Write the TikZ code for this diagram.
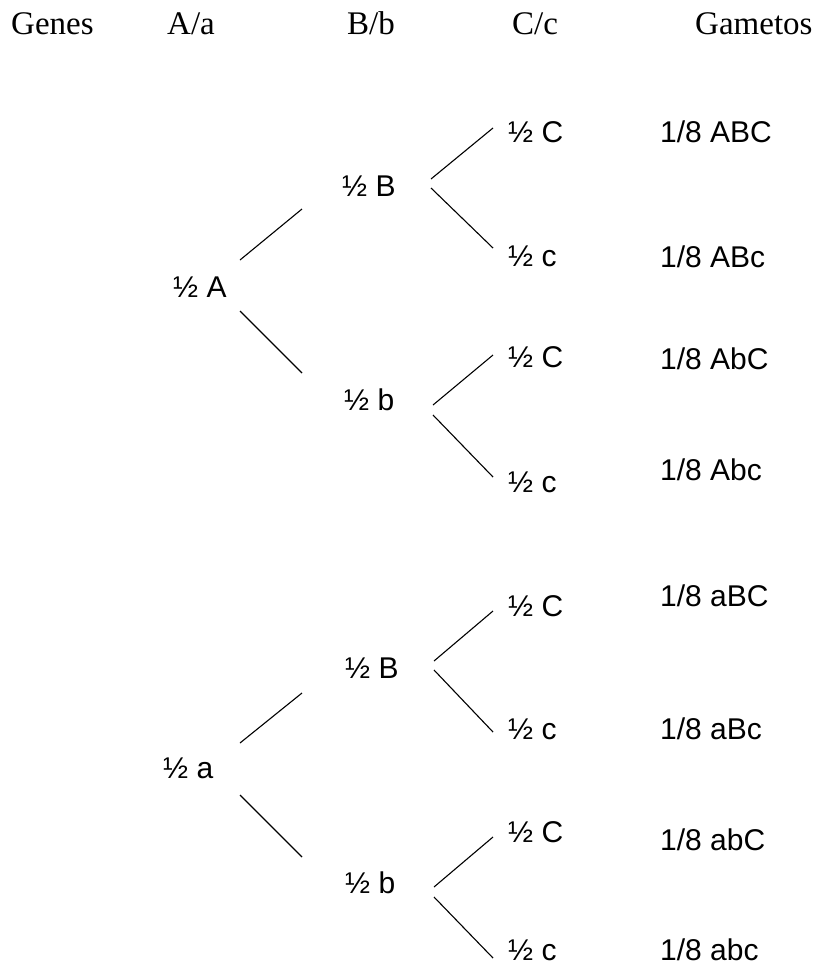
\documentclass[tikz,border=0pt]{standalone}
\usepackage{fontspec}
\setmainfont{Liberation Serif}
\setsansfont{Liberation Sans}
\usepackage{tikz}

\begin{document}
\begin{tikzpicture}[x=1pt, y=-1pt,
    hdr/.style={font=\rmfamily\fontsize{33}{38}\selectfont, inner sep=0pt, anchor=west, text height=21pt, text depth=0pt},
    txt/.style={font=\sffamily\fontsize{30}{36}\selectfont, inner sep=0pt, anchor=west, text height=21pt, text depth=0pt},
    branch/.style={line width=1.1pt}]
    \useasboundingbox (0,0) rectangle (819,967);

    % draw header
    \node[hdr] (genes) at (11,23.5) {Genes};
    \node[hdr] (locA) at (167,23.5) {A/a};
    \node[hdr] (locB) at (347,23.5) {B/b};
    \node[hdr] (locC) at (512,23.5) {C/c};
    \node[hdr] (gam) at (695,23.5) {Gametos};

    % draw nodes
    \node[txt] (A) at (173,287) {½ A};
    \node[txt] (a) at (163,768) {½ a};

    \node[txt] (AB) at (342,186) {½ B};
    \node[txt] (Ab) at (344,400) {½ b};
    \node[txt] (aB) at (345,668) {½ B};
    \node[txt] (ab) at (345,883) {½ b};

    \node[txt] (ABC) at (508,132) {½ C};
    \node[txt] (ABc) at (508,256) {½ c};
    \node[txt] (AbC) at (508,357) {½ C};
    \node[txt] (Abc) at (508,482) {½ c};
    \node[txt] (aBC) at (508,606) {½ C};
    \node[txt] (aBc) at (508,729) {½ c};
    \node[txt] (abC) at (508,832) {½ C};
    \node[txt] (abc) at (508,950) {½ c};

    % draw gametes
    \node[txt] (gABC) at (660,132) {1/8 ABC};
    \node[txt] (gABc) at (660,257) {1/8 ABc};
    \node[txt] (gAbC) at (660,359) {1/8 AbC};
    \node[txt] (gAbc) at (660,470) {1/8 Abc};
    \node[txt] (gaBC) at (660,596) {1/8 aBC};
    \node[txt] (gaBc) at (660,729) {1/8 aBc};
    \node[txt] (gabC) at (660,840) {1/8 abC};
    \node[txt] (gabc) at (660,950) {1/8 abc};

    % draw branches
    \foreach \p/\c/\sx/\sy/\ex/\ey in {A/AB/67/-27/-40/23, A/Ab/67/24/-42/-27,
        a/aB/77/-25/-43/25, a/ab/77/27/-43/-26}
      \draw[branch] ([shift={(\sx,\sy)}]\p.west) -- ([shift={(\ex,\ey)}]\c.west);

    \foreach \p/\c/\sy/\ey in {AB/ABC/-7/-4, AB/ABc/2/-8, Ab/AbC/5/-2, Ab/Abc/15/-5,
        aB/aBC/-7/5, aB/aBc/2/3, ab/abC/4/5, ab/abc/14/8}
      \draw[branch] ([shift={(89,\sy)}]\p.west) -- ([shift={(-15,\ey)}]\c.west);
  \end{tikzpicture}
\end{document}
